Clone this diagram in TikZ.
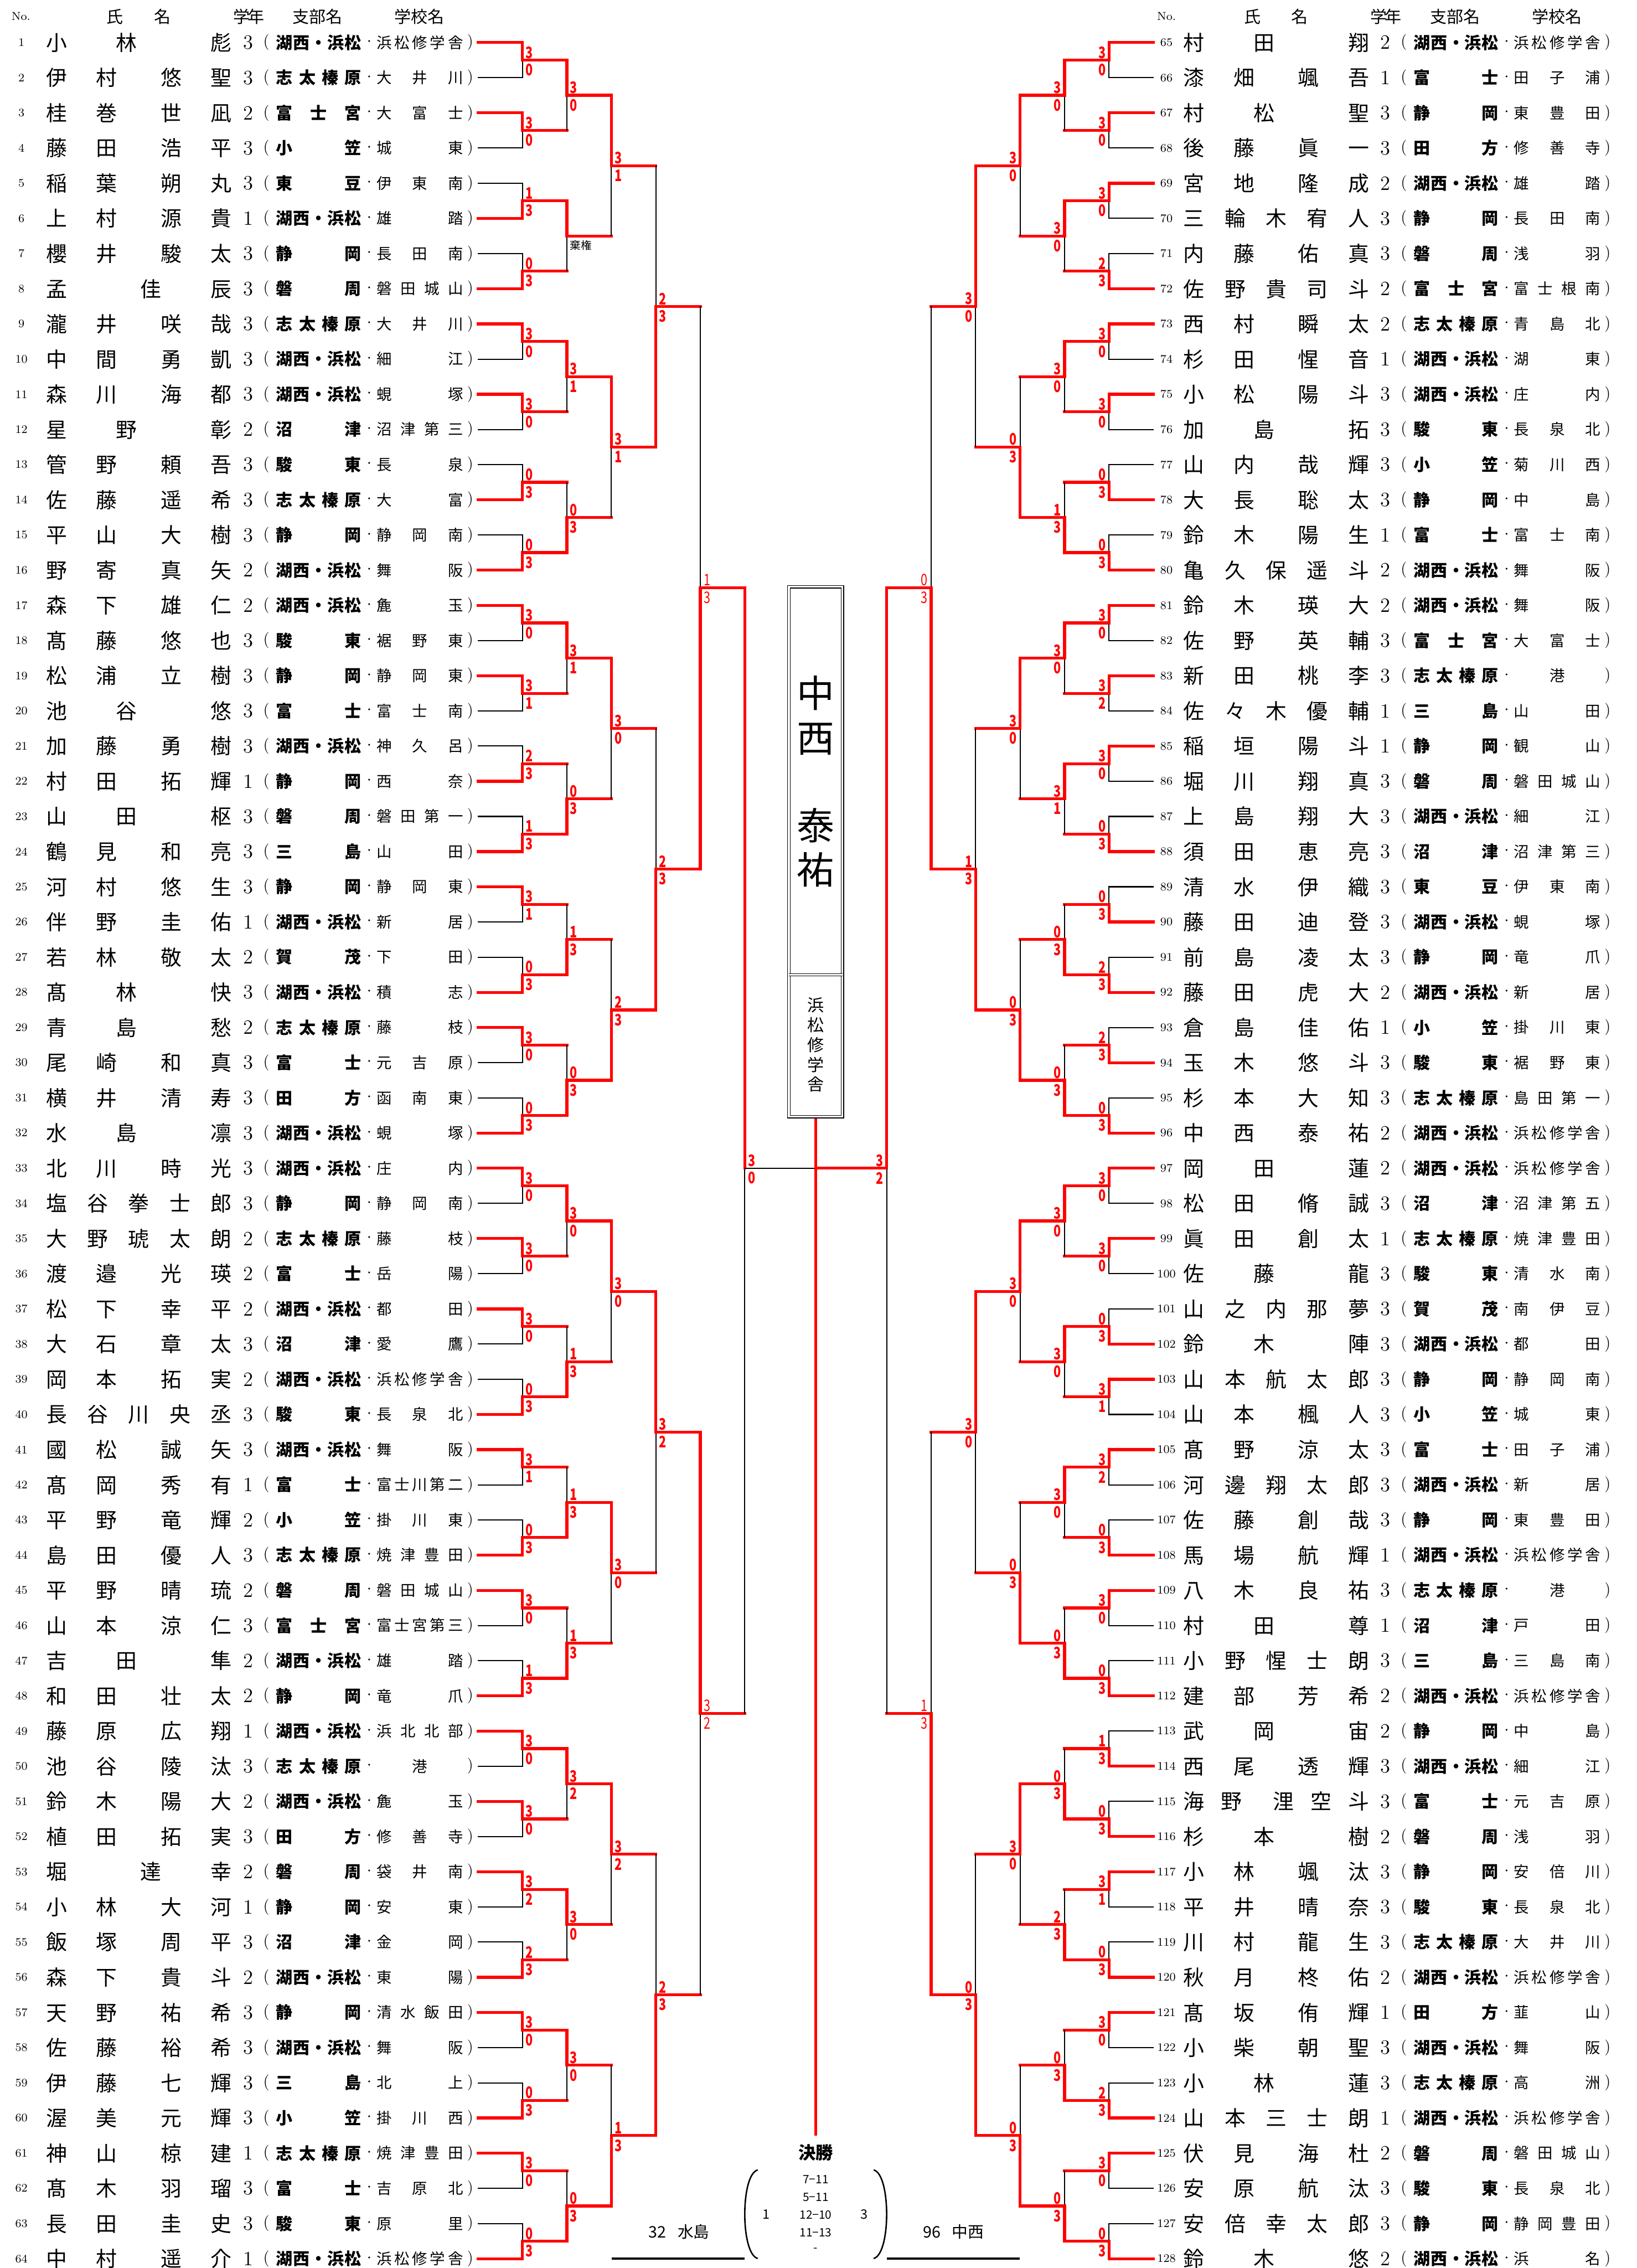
\documentclass[tikz,border=0pt]{standalone}
\usepackage{fontspec}
\newfontfamily\jp{Noto Sans CJK JP}
\makeatletter
% spread the letters of a word over its box
\def\sprd#1{\expandafter\sprd@#1\@nil}
\def\sprd@#1#2\@nil{#1\ifx\relax#2\relax\else\hfill\sprd@#2\@nil\fi}
\makeatother
\def\yo{29.4}
\def\dy{24.32}
\def\xc{564.05}
% one side of the entry list
\newcommand\entrants[3]{%
  \foreach \nr/\sur/\giv/\gap/\gr/\br/\sch in {#3}{
    \pgfmathsetmacro\yy{\yo+mod(\nr-1,64)*\dy}
    \node[num] (no\nr) at (#2,\yy) {\nr};
    \node[pname] (nm\nr) at (#1+31.65,\yy) {\makebox[128.3pt][s]{\sprd{\sur}\hskip0pt plus \gap fill\relax\sprd{\giv}}};
    \node[grade] (gr\nr) at (#1+171.5,\yy) {\gr};
    \node[paren] (lp\nr) at (#1+184.2,\yy) {(};
    \node[branch] (br\nr) at (#1+190.8,\yy) {\makebox[58.7pt][s]{\sprd{\br}}};
    \node[midot] (dt\nr) at (#1+255.3,\yy) {・};
    \node[school] (sc\nr) at (#1+260.2,\yy) {\makebox[59.8pt][s]{\sprd{\sch}}};
    \node[paren] (rp\nr) at (#1+325.1,\yy) {)};
  }}
% one round of one side: winner (0 top, 1 bottom) / top score / bottom score
\newcommand\bouts[3]{%
  \foreach \w/\sA/\sB [count=\m] in {#3}{
    \pgfmathsetmacro\h{2^(#2-1)}
    \pgfmathsetmacro\yt{\yo+((2*\m-2)*\h+(\h-1)/2)*\dy}
    \pgfmathsetmacro\yb{\yt+\h*\dy}
    \pgfmathsetmacro\ym{ifthenelse(#2==6,\yo+32*\dy,(\yt+\yb)/2)}
    \pgfmathsetmacro\yw{ifthenelse(\w==0,\yt,\yb)}
    \pgfmathsetmacro\yl{ifthenelse(\w==0,\yb,\yt)}
    \pgfmathsetmacro\xa{\xc-#1*(233.55-30.75*(#2-1))}
    \pgfmathsetmacro\xv{\xc-#1*(233.55-30.75*#2)}
    \pgfmathsetmacro\xn{\xc-#1*(233.55-30.75*(#2+1))}
    \pgfmathsetmacro\xs{ifthenelse(#2==1,\xa,\xv)}
    \ifnum#2=5 \def\sw{\mdseries}\else\def\sw{\bfseries}\fi
    \draw[lose] (\xs,\yl) -- (\xv,\yl) -- (\xv,\ym);
    \draw[win] (\xa,\yw) -- (\xv,\yw) -- (\xv,\ym);
    \ifnum#2<6 \draw[win] (\xv,\ym) -- (\xn,\ym);\fi
    \node[score] (t#1r#2m\m) at (\xv+#1*4.8,\ym-5.3) {\scalebox{.75}[1]{\sw\sA}};
    \node[score] (b#1r#2m\m) at (\xv+#1*4.8,\ym+6.8) {\scalebox{.75}[1]{\sw\sB}};
  }}

\begin{document}
\begin{tikzpicture}[x=1pt,y=-1pt,
  every node/.style={inner sep=0pt},
  win/.style={red,line width=2pt,line cap=rect},
  lose/.style={black,line width=0.8pt},
  score/.style={text=red,font=\jp\fontsize{11}{11}\selectfont},
  num/.style={font=\fontsize{8}{8}\selectfont},
  pname/.style={anchor=west,font=\jp\fontsize{14.5}{16}\selectfont,text height=12.8pt,text depth=1.7pt},
  grade/.style={font=\fontsize{14}{14}\selectfont},
  paren/.style={font=\fontsize{11}{11}\selectfont},
  branch/.style={anchor=west,font=\jp\bfseries\fontsize{11.5}{12}\selectfont,text height=10.1pt,text depth=1.4pt},
  school/.style={anchor=west,font=\jp\fontsize{10.5}{11}\selectfont,text height=9.2pt,text depth=1.3pt},
  midot/.style={font=\jp\fontsize{6}{6}\selectfont},
  head/.style={font=\jp\fontsize{11.5}{12}\selectfont},
  dbl/.style={draw,double,line width=0.5pt,double distance=1.2pt},
  fin/.style={font=\jp\fontsize{11}{12}\selectfont},
  game/.style={font=\jp\fontsize{8}{8}\selectfont}]
\useasboundingbox (0,0) rectangle (1131.6,1568);
% headings
\foreach \s/\n in {0/14.5,786.5/806.6}{
  \node[num] (hno\s) at (\n,11.4) {No.};
  \node[head] (hs\s) at (\s+79.5,11.4) {氏};
  \node[head] (hm\s) at (\s+112.2,11.4) {名};
  \node[head] (hg\s) at (\s+172,11.4) {学\kern-1.5pt 年};
  \node[head] (hb\s) at (\s+219.6,11.4) {支部名};
  \node[head] (hc\s) at (\s+290,11.4) {学校名};
}
% entries
\entrants{0}{14.8}{1/小林/彪/1.5/3/湖西・浜松/浜松修学舎,
2/伊村/悠聖/1.5/3/志太榛原/大井川,
3/桂巻/世凪/1.5/2/富士宮/大富士,
4/藤田/浩平/1.5/3/小笠/城東,
5/稲葉/朔丸/1.5/3/東豆/伊東南,
6/上村/源貴/1.5/1/湖西・浜松/雄踏,
7/櫻井/駿太/1.5/3/静岡/長田南,
8/孟/佳辰/1.5/3/磐周/磐田城山,
9/瀧井/咲哉/1.5/3/志太榛原/大井川,
10/中間/勇凱/1.5/3/湖西・浜松/細江,
11/森川/海都/1.5/3/湖西・浜松/蜆塚,
12/星野/彰/1.5/2/沼津/沼津第三,
13/管野/頼吾/1.5/3/駿東/長泉,
14/佐藤/遥希/1.5/3/志太榛原/大富,
15/平山/大樹/1.5/3/静岡/静岡南,
16/野寄/真矢/1.5/2/湖西・浜松/舞阪,
17/森下/雄仁/1.5/2/湖西・浜松/麁玉,
18/髙藤/悠也/1.5/3/駿東/裾野東,
19/松浦/立樹/1.5/3/静岡/静岡東,
20/池谷/悠/1.5/3/富士/富士南,
21/加藤/勇樹/1.5/3/湖西・浜松/神久呂,
22/村田/拓輝/1.5/1/静岡/西奈,
23/山田/枢/1.5/3/磐周/磐田第一,
24/鶴見/和亮/1.5/3/三島/山田,
25/河村/悠生/1.5/3/静岡/静岡東,
26/伴野/圭佑/1.5/1/湖西・浜松/新居,
27/若林/敬太/1.5/2/賀茂/下田,
28/髙林/快/1.5/3/湖西・浜松/積志,
29/青島/愁/1.5/2/志太榛原/藤枝,
30/尾崎/和真/1.5/3/富士/元吉原,
31/横井/清寿/1.5/3/田方/函南東,
32/水島/凛/1.5/3/湖西・浜松/蜆塚,
33/北川/時光/1.5/3/湖西・浜松/庄内,
34/塩谷/拳士郎/1/3/静岡/静岡南,
35/大野/琥太朗/1/2/志太榛原/藤枝,
36/渡邉/光瑛/1.5/2/富士/岳陽,
37/松下/幸平/1.5/2/湖西・浜松/都田,
38/大石/章太/1.5/3/沼津/愛鷹,
39/岡本/拓実/1.5/2/湖西・浜松/浜松修学舎,
40/長谷川/央丞/1/3/駿東/長泉北,
41/國松/誠矢/1.5/3/湖西・浜松/舞阪,
42/髙岡/秀有/1.5/1/富士/富士川第二,
43/平野/竜輝/1.5/2/小笠/掛川東,
44/島田/優人/1.5/3/志太榛原/焼津豊田,
45/平野/晴琉/1.5/2/磐周/磐田城山,
46/山本/涼仁/1.5/3/富士宮/富士宮第三,
47/吉田/隼/1.5/2/湖西・浜松/雄踏,
48/和田/壮太/1.5/2/静岡/竜爪,
49/藤原/広翔/1.5/1/湖西・浜松/浜北北部,
50/池谷/陵汰/1.5/3/志太榛原/{\hfill 港\hfill},
51/鈴木/陽大/1.5/2/湖西・浜松/麁玉,
52/植田/拓実/1.5/3/田方/修善寺,
53/堀/達幸/1.5/2/磐周/袋井南,
54/小林/大河/1.5/1/静岡/安東,
55/飯塚/周平/1.5/3/沼津/金岡,
56/森下/貴斗/1.5/2/湖西・浜松/東陽,
57/天野/祐希/1.5/3/静岡/清水飯田,
58/佐藤/裕希/1.5/3/湖西・浜松/舞阪,
59/伊藤/七輝/1.5/3/三島/北上,
60/渥美/元輝/1.5/3/小笠/掛川西,
61/神山/椋建/1.5/1/志太榛原/焼津豊田,
62/髙木/羽瑠/1.5/3/富士/吉原北,
63/長田/圭史/1.5/3/駿東/原里,
64/中村/遥介/1.5/1/湖西・浜松/浜松修学舎}
\entrants{786.5}{806.6}{65/村田/翔/1.5/2/湖西・浜松/浜松修学舎,
66/漆畑/颯吾/1.5/1/富士/田子浦,
67/村松/聖/1.5/3/静岡/東豊田,
68/後藤/眞一/1.5/3/田方/修善寺,
69/宮地/隆成/1.5/2/湖西・浜松/雄踏,
70/三輪/木宥人/1/3/静岡/長田南,
71/内藤/佑真/1.5/3/磐周/浅羽,
72/佐野/貴司斗/1/2/富士宮/富士根南,
73/西村/瞬太/1.5/2/志太榛原/青島北,
74/杉田/惺音/1.5/1/湖西・浜松/湖東,
75/小松/陽斗/1.5/3/湖西・浜松/庄内,
76/加島/拓/1.5/3/駿東/長泉北,
77/山内/哉輝/1.5/3/小笠/菊川西,
78/大長/聡太/1.5/3/静岡/中島,
79/鈴木/陽生/1.5/1/富士/富士南,
80/亀久保/遥斗/1/2/湖西・浜松/舞阪,
81/鈴木/瑛大/1.5/2/湖西・浜松/舞阪,
82/佐野/英輔/1.5/3/富士宮/大富士,
83/新田/桃李/1.5/3/志太榛原/{\hfill 港\hfill},
84/佐々木/優輔/1/1/三島/山田,
85/稲垣/陽斗/1.5/1/静岡/観山,
86/堀川/翔真/1.5/3/磐周/磐田城山,
87/上島/翔大/1.5/3/湖西・浜松/細江,
88/須田/恵亮/1.5/3/沼津/沼津第三,
89/清水/伊織/1.5/3/東豆/伊東南,
90/藤田/迪登/1.5/3/湖西・浜松/蜆塚,
91/前島/凌太/1.5/3/静岡/竜爪,
92/藤田/虎大/1.5/2/湖西・浜松/新居,
93/倉島/佳佑/1.5/1/小笠/掛川東,
94/玉木/悠斗/1.5/3/駿東/裾野東,
95/杉本/大知/1.5/3/志太榛原/島田第一,
96/中西/泰祐/1.5/2/湖西・浜松/浜松修学舎,
97/岡田/蓮/1.5/2/湖西・浜松/浜松修学舎,
98/松田/脩誠/1.5/3/沼津/沼津第五,
99/眞田/創太/1.5/1/志太榛原/焼津豊田,
100/佐藤/龍/1.5/3/駿東/清水南,
101/山之内/那夢/1/3/賀茂/南伊豆,
102/鈴木/陣/1.5/3/湖西・浜松/都田,
103/山本/航太郎/1/3/静岡/静岡南,
104/山本/楓人/1.5/3/小笠/城東,
105/髙野/涼太/1.5/3/富士/田子浦,
106/河邊/翔太郎/1/3/湖西・浜松/新居,
107/佐藤/創哉/1.5/3/静岡/東豊田,
108/馬場/航輝/1.5/1/湖西・浜松/浜松修学舎,
109/八木/良祐/1.5/3/志太榛原/{\hfill 港\hfill},
110/村田/尊/1.5/1/沼津/戸田,
111/小野/惺士朗/1/3/三島/三島南,
112/建部/芳希/1.5/2/湖西・浜松/浜松修学舎,
113/武岡/宙/1.5/2/静岡/中島,
114/西尾/透輝/1.5/3/湖西・浜松/細江,
115/海野/浬空斗/1.9/3/富士/元吉原,
116/杉本/樹/1.5/2/磐周/浅羽,
117/小林/颯汰/1.5/3/静岡/安倍川,
118/平井/晴奈/1.5/3/駿東/長泉北,
119/川村/龍生/1.5/3/志太榛原/大井川,
120/秋月/柊佑/1.5/2/湖西・浜松/浜松修学舎,
121/髙坂/侑輝/1.5/1/田方/韮山,
122/小柴/朝聖/1.5/3/湖西・浜松/舞阪,
123/小林/蓮/1.5/3/志太榛原/高洲,
124/山本/三士朗/1/1/湖西・浜松/浜松修学舎,
125/伏見/海杜/1.5/2/磐周/磐田城山,
126/安原/航汰/1.5/3/駿東/長泉北,
127/安倍/幸太郎/1/3/静岡/静岡豊田,
128/鈴木/悠/1.5/2/湖西・浜松/浜名}
% left bracket
\bouts{1}{1}{0/3/0,0/3/0,1/1/3,1/0/3,0/3/0,0/3/0,1/0/3,1/0/3,
0/3/0,0/3/1,1/2/3,1/1/3,0/3/1,1/0/3,0/3/0,1/0/3,
0/3/0,0/3/0,0/3/0,1/0/3,0/3/1,1/0/3,0/3/0,1/1/3,
0/3/0,0/3/0,0/3/2,1/2/3,0/3/0,1/0/3,0/3/0,1/0/3}
\bouts{1}{2}{0/3/0,0/{}/{},0/3/1,1/0/3,0/3/1,1/0/3,1/1/3,1/0/3,
0/3/0,1/1/3,1/1/3,1/1/3,0/3/2,0/3/0,0/3/0,1/0/3}
\bouts{1}{3}{0/3/1,0/3/1,0/3/0,1/2/3,0/3/0,0/3/0,0/3/2,1/1/3}
\bouts{1}{4}{1/2/3,1/2/3,0/3/2,1/2/3}
\bouts{1}{5}{1/1/3,0/3/2}
\bouts{1}{6}{0/3/0}
\node[font=\jp\fontsize{7.5}{8}\selectfont,anchor=west] (kiken) at (394,169.4) {棄権};
% right bracket
\bouts{-1}{1}{0/3/0,0/3/0,0/3/0,1/2/3,0/3/0,0/3/0,1/0/3,1/0/3,
0/3/0,0/3/2,0/3/0,1/0/3,1/0/3,1/2/3,1/2/3,1/0/3,
0/3/0,0/3/0,1/0/3,0/3/1,0/3/2,1/0/3,0/3/0,1/0/3,
1/1/3,1/0/3,0/3/1,1/0/3,0/3/0,1/2/3,0/3/0,1/0/3}
\bouts{-1}{2}{0/3/0,0/3/0,0/3/0,1/1/3,0/3/0,0/3/1,1/0/3,1/0/3,
0/3/0,0/3/0,0/3/0,1/0/3,1/0/3,1/2/3,1/0/3,1/0/3}
\bouts{-1}{3}{0/3/0,1/0/3,0/3/0,1/0/3,0/3/0,1/0/3,0/3/0,1/0/3}
\bouts{-1}{4}{0/3/0,1/1/3,0/3/0,1/0/3}
\bouts{-1}{5}{1/0/3,1/1/3}
\bouts{-1}{6}{0/3/2}
% final
\draw[lose] (515,807.6) -- (\xc,807.6);
\draw[win] (\xc,807.6) -- (613.1,807.6);
\draw[win] (\xc,772) -- (\xc,1475.6);
\draw[dbl] (545.5,405.7) rectangle (582.6,772);
\draw[dbl] (545.5,673.9) -- (582.6,673.9);
\node[align=center,font=\jp\fontsize{26}{30.7}\selectfont] (champ) at (\xc,540.3) {中\\西\\[29.9pt]泰\\祐};
\node[align=center,font=\jp\fontsize{11.5}{13.75}\selectfont] (club) at (\xc,722.3) {浜\\松\\修\\学\\舎};
\node[font=\jp\bfseries\fontsize{12}{12}\selectfont] (kessho) at (\xc,1488.3) {決勝};
\foreach \t [count=\i] in {7−11,5−11,12−10,11−13,-}
  \node[game] (g\i) at (\xc,1494.6+12.2*\i) {\t};
\node[game,font=\jp\fontsize{9}{9}\selectfont] (sl) at (530,1531) {1};
\node[game,font=\jp\fontsize{9}{9}\selectfont] (sr) at (597.6,1531) {3};
\draw[line width=1pt] (524,1500.2) .. controls (512,1503) and (512,1558.5) .. (524,1561.4);
\draw[line width=1pt] (604.1,1500.2) .. controls (616.1,1503) and (616.1,1558.5) .. (604.1,1561.4);
\node[fin] (fl) at (469.5,1543) {32\hspace{8pt}水島};
\node[fin] (fr) at (659.3,1543) {96\hspace{8pt}中西};
\draw[line width=1.5pt] (423,1561.5) -- (515,1561.5);
\draw[line width=1.5pt] (613.1,1561.5) -- (705,1561.5);
\end{tikzpicture}
\end{document}
